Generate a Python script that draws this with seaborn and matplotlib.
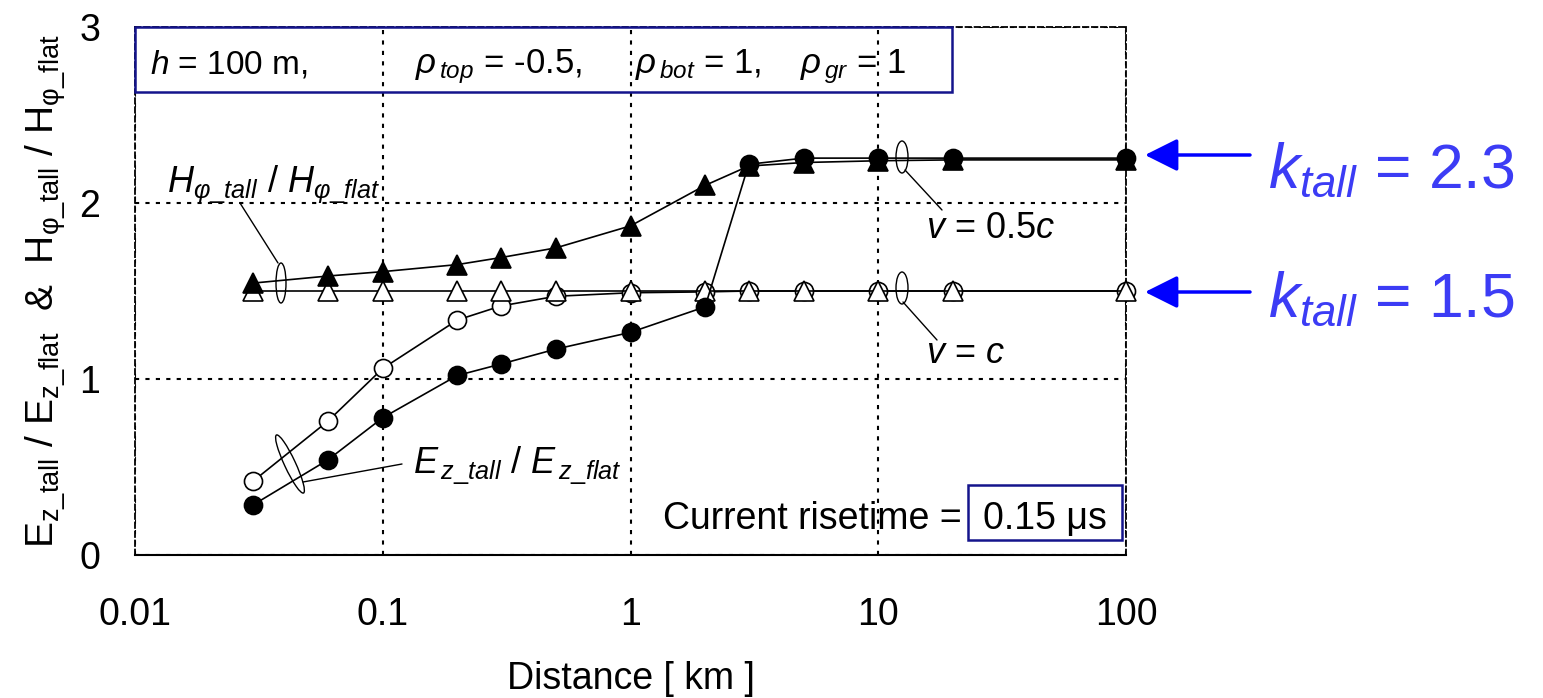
import numpy as np
import pandas as pd
import matplotlib
matplotlib.use("Agg")
import matplotlib.pyplot as plt
import seaborn as sns
from matplotlib.patches import Ellipse, Rectangle
from matplotlib.transforms import ScaledTranslation
from matplotlib.ticker import NullLocator

# ---------------- data ----------------
distance_km = [0.03, 0.06, 0.1, 0.2, 0.3, 0.5, 1, 2, 3, 5, 10, 20, 100]
H_ratio_v_c = [1.5, 1.5, 1.5, 1.5, 1.5, 1.5, 1.5, 1.5, 1.5, 1.5, 1.5, 1.5, 1.5]
H_ratio_v_05c = [1.545, 1.585, 1.61, 1.65, 1.69, 1.745, 1.87, 2.10, 2.21, 2.23, 2.24, 2.245, 2.245]
E_ratio_v_c = [0.42, 0.76, 1.06, 1.335, 1.415, 1.47, 1.49, 1.495, 1.5, 1.5, 1.5, 1.5, 1.5]
E_ratio_v_05c = [0.285, 0.54, 0.78, 1.02, 1.085, 1.17, 1.265, 1.41, 2.22, 2.255, 2.255, 2.255, 2.255]

x_ticks = [0.01, 0.1, 1, 10, 100]
x_tick_labels = ["0.01", "0.1", "1", "10", "100"]
y_ticks = [0, 1, 2, 3]
y_tick_labels = ["0", "1", "2", "3"]
k_tall_labels = ["2.3", "1.5"]

# ---------------- style ----------------
sns.set_style("white")
plt.rcParams["font.family"] = ["Liberation Sans", "DejaVu Sans"]
plt.rcParams["mathtext.fontset"] = "custom"
plt.rcParams["mathtext.rm"] = "Liberation Sans"
plt.rcParams["mathtext.it"] = "Liberation Sans:italic"
plt.rcParams["mathtext.bf"] = "Liberation Sans:bold"
for key in ["text.color", "axes.labelcolor", "xtick.color", "ytick.color",
            "axes.edgecolor"]:
    plt.rcParams[key] = "black"

W, H = 1543, 698
fig = plt.figure(figsize=(W / 100, H / 100), dpi=100)
ax = fig.add_axes([135 / W, 1 - 555 / H, (1126 - 135) / W, (555 - 27) / H])


def ax_xy(px, py):
    """pixel position -> axes fraction"""
    return (px - 135) / 991.0, (555 - py) / 528.0


df = pd.DataFrame({
    "d": distance_km,
    "Hc": H_ratio_v_c,
    "H05": H_ratio_v_05c,
    "Ec": E_ratio_v_c,
    "E05": E_ratio_v_05c,
})

common = dict(ax=ax, color="black", linewidth=1.2, estimator=None, sort=False,
              clip_on=False, markeredgecolor="black", markeredgewidth=1.2)
sns.lineplot(data=df, x="d", y="Ec", marker="o", markersize=13,
             markerfacecolor="white", zorder=5, **common)
sns.lineplot(data=df, x="d", y="Hc", marker="^", markersize=14,
             markerfacecolor="white", zorder=6, **common)
sns.lineplot(data=df, x="d", y="H05", marker="^", markersize=14,
             markerfacecolor="black", zorder=7, **common)
sns.lineplot(data=df, x="d", y="E05", marker="o", markersize=13,
             markerfacecolor="black", zorder=8, **common)

ax.set_xscale("log")
ax.set_xlim(0.01, 100)
ax.set_ylim(0, 3)
ax.set_xticks(x_ticks)
ax.set_xticklabels(x_tick_labels)
ax.set_yticks(y_ticks)
ax.set_yticklabels(y_tick_labels)
ax.xaxis.set_minor_locator(NullLocator())
ax.tick_params(axis="both", length=0, labelsize=27, colors="black")
ax.tick_params(axis="x", pad=30)
ax.tick_params(axis="y", pad=25)

ax.grid(True, which="major", color="black", linestyle=(0, (2, 3)), linewidth=1.5)
for side in ["left", "top", "right"]:
    ax.spines[side].set_linestyle((0, (3, 2)))
    ax.spines[side].set_linewidth(1.3)
    ax.spines[side].set_color("black")
ax.spines["bottom"].set_linewidth(1.5)
ax.spines["bottom"].set_color("black")

ax.set_xlabel("Distance [ km ]", fontsize=27)
ax.xaxis.set_label_coords(0.5, ax_xy(0, 661)[1])
ax.set_ylabel(r"E$_{\mathregular{z\_tall}}$ / E$_{\mathregular{z\_flat}}$  &  "
              r"H$_{\mathregular{\varphi\_tall}}$ / H$_{\mathregular{\varphi\_flat}}$",
              fontsize=28)
ax.yaxis.set_label_coords(ax_xy(68, 0)[0], 0.5)

# ---------------- top parameter box ----------------
bx0, by0 = ax_xy(135, 92)
bx1, by1 = ax_xy(952, 27)
ax.add_patch(Rectangle((bx0, by0), bx1 - bx0, by1 - by0, transform=ax.transAxes,
                       fill=False, edgecolor="#14148c", linewidth=1.8,
                       zorder=10, clip_on=False))
tb = ax_xy(0, 73)[1]
ax.text(ax_xy(150, 0)[0], tb, r"$h$ = 100 m,", transform=ax.transAxes,
        fontsize=24, va="baseline", ha="left", zorder=11)
ax.text(ax_xy(415, 0)[0], tb, r"$\rho_{\,top}$ = -0.5,", transform=ax.transAxes,
        fontsize=25, va="baseline", ha="left", zorder=11)
ax.text(ax_xy(635, 0)[0], tb, r"$\rho_{\,bot}$ = 1,", transform=ax.transAxes,
        fontsize=25, va="baseline", ha="left", zorder=11)
ax.text(ax_xy(800, 0)[0], tb, r"$\rho_{\,gr}$ = 1", transform=ax.transAxes,
        fontsize=25, va="baseline", ha="left", zorder=11)

# ---------------- risetime box ----------------
rx0, ry0 = ax_xy(968, 540)
rx1, ry1 = ax_xy(1122, 485)
ax.add_patch(Rectangle((rx0, ry0), rx1 - rx0, ry1 - ry0, transform=ax.transAxes,
                       facecolor="white", edgecolor="#14148c", linewidth=1.8,
                       zorder=10, clip_on=False))
rb = ax_xy(0, 529)[1]
ax.text(ax_xy(962, 0)[0], rb, "Current risetime =", transform=ax.transAxes,
        fontsize=27, va="baseline", ha="right", zorder=11)
ax.text(ax_xy(1045, 0)[0], rb, "0.15 \u03bcs", transform=ax.transAxes,
        fontsize=27, va="baseline", ha="center", zorder=11)

# ---------------- annotations with ellipses ----------------
def ellipse(px, py, w, h, angle=0):
    fx, fy = ax_xy(px, py)
    tr = fig.dpi_scale_trans + ScaledTranslation(fx, fy, ax.transAxes)
    ax.add_patch(Ellipse((0, 0), w / 100, h / 100, angle=angle, transform=tr,
                         fill=False, edgecolor="black", linewidth=1.0,
                         zorder=12, clip_on=False))


def leader(p0, p1):
    a = ax_xy(*p0)
    b = ax_xy(*p1)
    ax.plot([a[0], b[0]], [a[1], b[1]], transform=ax.transAxes, color="black",
            linewidth=1.0, zorder=12, clip_on=False)


ellipse(281, 283, 10, 40)
leader((240, 203), (278, 263))
ax.text(ax_xy(167, 0)[0], ax_xy(0, 193)[1],
        r"$H_{\varphi\_tall}$ / $H_{\varphi\_flat}$",
        transform=ax.transAxes, fontsize=26, va="baseline", ha="left", zorder=12)

ellipse(290, 464, 64, 11, angle=115)
leader((303, 482), (402, 464))
ax.text(ax_xy(413, 0)[0], ax_xy(0, 474)[1],
        r"$E_{\,z\_tall}$ / $E_{\,z\_flat}$",
        transform=ax.transAxes, fontsize=26, va="baseline", ha="left", zorder=12)

ellipse(902, 157, 12, 32)
leader((905, 170), (942, 210))
ax.text(ax_xy(926, 0)[0], ax_xy(0, 238)[1], r"$v$ = 0.5$c$",
        transform=ax.transAxes, fontsize=26, va="baseline", ha="left", zorder=12)

ellipse(902, 288, 12, 32)
leader((903, 302), (937, 340))
ax.text(ax_xy(926, 0)[0], ax_xy(0, 363)[1], r"$v$ = $c$",
        transform=ax.transAxes, fontsize=26, va="baseline", ha="left", zorder=12)

# ---------------- k_tall arrows ----------------
for label, ay, tby in zip(k_tall_labels, [155, 292], [188, 317]):
    ax.annotate("", xy=ax_xy(1145, ay), xytext=ax_xy(1250, ay),
                xycoords="axes fraction", textcoords="axes fraction",
                annotation_clip=False,
                arrowprops=dict(arrowstyle="-|>,head_length=1.0,head_width=0.5",
                                mutation_scale=20, color="#0000ff", lw=2.5,
                                shrinkA=0, shrinkB=0))
    ax.text(ax_xy(1268, 0)[0], ax_xy(0, tby)[1],
            r"$k_{tall}$ = " + label,
            transform=ax.transAxes, fontsize=45, color="#3c3cf5",
            va="baseline", ha="left", clip_on=False)

fig.savefig("out.png", dpi=100)
